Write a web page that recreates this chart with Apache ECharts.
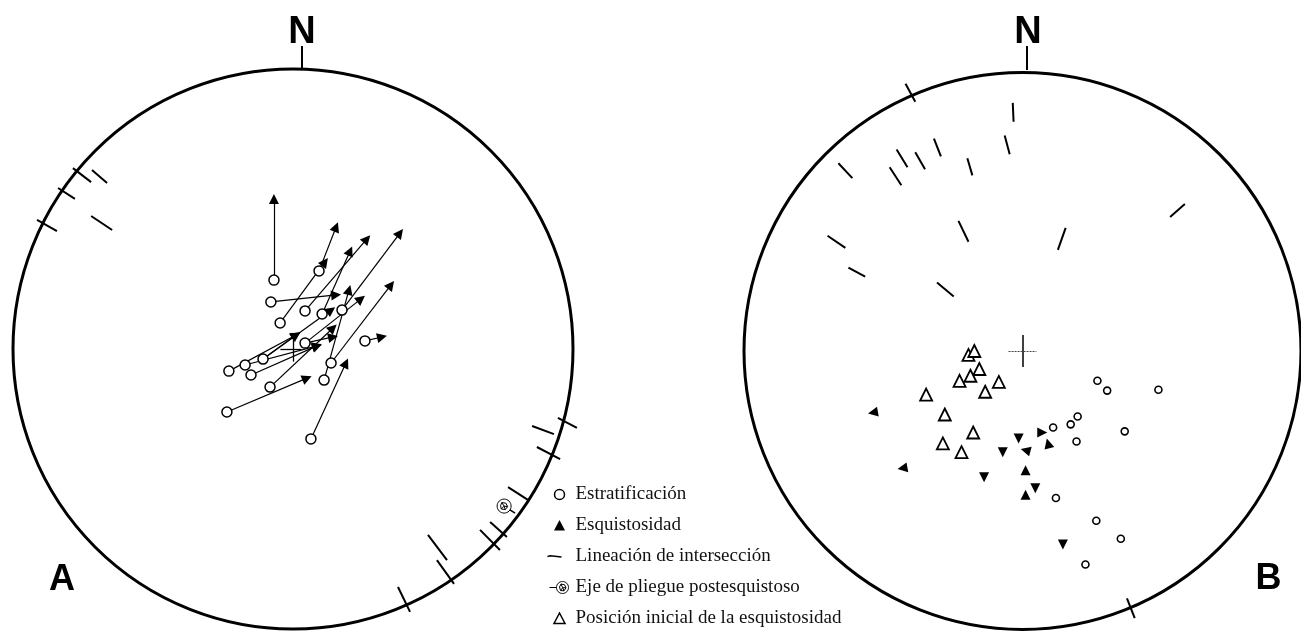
<!DOCTYPE html>
<html><head><meta charset="utf-8">
<script src="https://cdn.jsdelivr.net/npm/echarts@6/dist/echarts.min.js"></script>
<style>html,body{margin:0;padding:0;background:#fff}#c{width:1301px;height:632px}</style>
</head><body><div id="c"></div>
<script>
// Stereonet units: circle radius = 100, x = east, y = north

// ---- Diagram A ----
const stratA = [[-6.8,24.6],[-7.9,16.8],[9.3,27.9],[4.3,13.6],[-4.6,9.3],[10.4,12.5],[17.5,13.9],[4.3,2.1],[-10.7,-3.6],[-17.1,-5.7],[-22.9,-7.9],[-15.0,-9.3],[-8.2,-13.6],[-23.6,-22.5],[13.6,-5.0],[11.1,-11.1],[25.7,2.9],[6.4,-32.1]];
const schistA = [[-6.8,53.6],[15.4,43.6],[38.2,41.4],[26.4,39.3],[20.4,35.0],[11.4,31.1],[35.0,22.9],[20.0,21.1],[15.4,19.3],[24.3,17.9],[13.6,13.9],[14.3,7.5],[14.3,4.3],[31.8,4.3],[1.1,5.0],[8.6,1.1],[18.9,-5.0],[5.0,-10.4]];
// pairs: [stratification index, schistosity index]
const linksA = [[0,0],[1,8],[2,1],[3,3],[4,5],[5,4],[6,2],[7,9],[7,12],[8,14],[8,10],[9,15],[10,14],[11,15],[12,11],[13,17],[14,6],[15,7],[16,13],[17,16]];
const lineationsA = [[-78.6,64.6,-72.1,59.6],[-71.8,63.9,-66.4,59.3],[-83.9,57.5,-77.9,53.6],[-91.4,46.1,-84.3,42.1],[-72.1,47.5,-64.6,42.5],[94.6,-24.6,101.4,-28.2],[85.4,-27.5,93.2,-30.4],[87.1,-35.0,95.4,-39.3],[76.8,-49.3,83.9,-53.9],[66.8,-64.6,73.9,-71.8],[70.4,-61.8,76.4,-67.1],[48.2,-66.4,55.0,-75.4],[51.4,-75.4,57.5,-83.9],[37.5,-85.0,41.8,-93.9]];
const foldAxisA = [[75.4,-56.1,79.3,-58.6]];

// ---- Diagram B ----
const stratB = [[26.9,-10.6],[30.4,-14.1],[48.8,-13.8],[11.0,-27.2],[17.3,-26.1],[19.8,-23.3],[19.4,-32.2],[36.7,-28.6],[12.0,-52.3],[26.5,-60.4],[35.3,-66.8],[22.6,-76.0]];
// [x, y, pointing angle in degrees]
const schistB = [[-53.7,-21.9,100],[-43.1,-41.7,100],[-1.4,-31.1,180],[-7.1,-36.0,180],[1.1,-35.3,75],[7.1,-29.0,-90],[9.2,-32.9,15],[1.1,-42.4,0],[4.6,-48.8,180],[1.1,-51.2,0],[-13.8,-44.9,180],[14.5,-68.9,180]];
const initialB = [[-19.4,-1.4],[-17.3,0],[-15.5,-6.4],[-18.7,-8.8],[-22.6,-10.6],[-8.5,-11.0],[-13.4,-14.5],[-34.6,-15.5],[-27.9,-22.6],[-17.7,-29.0],[-28.6,-32.9],[-21.9,-36.0]];
const lineationsB = [[-42.0,95.1,-38.5,88.7],[-3.5,88.3,-3.2,81.6],[-6.4,76.7,-4.6,70.0],[-31.8,75.6,-29.3,69.3],[-38.5,70.7,-35.0,64.7],[-45.2,71.7,-41.3,65.4],[-47.7,65.4,-43.5,59.0],[-66.1,66.8,-61.1,61.5],[-19.8,68.6,-18.0,62.5],[53.0,47.7,58.3,52.3],[-23.0,46.3,-19.4,38.9],[15.5,43.8,12.7,36.0],[-70.0,41.0,-63.6,36.7],[-62.5,29.7,-56.5,26.5],[-30.7,24.4,-24.7,19.4],[37.5,-88.0,40.3,-95.1]];

const legendNames = ['Estratificación','Esquistosidad','Lineación de intersección','Eje de pliegue postesquistoso','Posición inicial de la esquistosidad'];

const chart = echarts.init(document.getElementById('c'));
const seg = arr => arr.map(s => ({coords: [[s[0], s[1]], [s[2], s[3]]]}));
const outline = gi => ({
  type: 'custom', xAxisIndex: gi, yAxisIndex: gi, silent: true, z: 1, clip: false,
  data: [[0, 0, 100]],
  renderItem: (p, api) => {
    const c = api.coord([api.value(0), api.value(1)]);
    const r = api.size([api.value(2), 0])[0];
    return {type: 'circle', shape: {cx: c[0], cy: c[1], r: r}, style: {fill: 'none', stroke: '#000', lineWidth: 3}};
  }
});
const segLines = (gi, name, data, width, extra) => Object.assign({
  type: 'lines', name: name, coordinateSystem: 'cartesian2d', xAxisIndex: gi, yAxisIndex: gi,
  data: seg(data), symbol: 'none', silent: true, clip: false, z: 2,
  lineStyle: {color: '#000', width: width, opacity: 1}
}, extra || {});
const textMark = (gi, x, y, txt, size) => ({
  type: 'custom', xAxisIndex: gi, yAxisIndex: gi, silent: true, clip: false, z: 5,
  data: [[x, y]],
  renderItem: (p, api) => {
    const c = api.coord([api.value(0), api.value(1)]);
    return {type: 'text', x: c[0], y: c[1], style: {text: txt, fill: '#000', font: 'bold ' + size + 'px "Liberation Sans", Arial, sans-serif', align: 'center', verticalAlign: 'middle', textAlign: 'center', textVerticalAlign: 'middle'}};
  }
});
const foldSymbol = 'path://M6,0 C9.3,0 12,2.7 12,6 C12,9.3 9.3,12 6,12 C2.7,12 0,9.3 0,6 C0,2.7 2.7,0 6,0 Z M4,3 L7.5,3.5 L9,6.5 L7,9 L3.5,8.5 L3,5.5 Z M4,3 L6,6 L7,9 M9,6.5 L6,6 L3.5,8.5';

const option = {
  animation: false,
  backgroundColor: '#fff',
  grid: [
    {left: 13, top: 69, width: 560, height: 560},
    {left: 744, top: 70, width: 566, height: 566}
  ],
  xAxis: [0, 1].map(i => ({gridIndex: i, type: 'value', min: -100, max: 100, show: false})),
  yAxis: [0, 1].map(i => ({gridIndex: i, type: 'value', min: -100, max: 100, show: false})),
  legend: {
    orient: 'vertical', left: 544, top: 485, height: 200, padding: 0, itemGap: 12, itemWidth: 24, itemHeight: 12,
    selectedMode: false, symbolKeepAspect: true,
    textStyle: {fontFamily: '"Liberation Serif", "DejaVu Serif", serif', fontSize: 19, color: '#111'},
    data: [
      {name: legendNames[0], icon: 'path://M0,0 M24,12 M13,1 C15.8,1 18,3.2 18,6 C18,8.8 15.8,11 13,11 C10.2,11 8,8.8 8,6 C8,3.2 10.2,1 13,1 Z', itemStyle: {color: '#fff', borderColor: '#000', borderWidth: 1.5}},
      {name: legendNames[1], icon: 'path://M0,0 M24,12 M13,0.5 L18.5,11 L7.5,11 Z', itemStyle: {color: '#000', borderWidth: 0}},
      {name: legendNames[2], icon: 'path://M0,0 M24,12 M1,6 L4,5.3 L15,6.5', itemStyle: {color: 'none', borderColor: '#000', borderWidth: 1.6}},
      {name: legendNames[3], icon: 'path://M0,0 M24,12 M3,6 L10,6 M16,0 C19.3,0 22,2.7 22,6 C22,9.3 19.3,12 16,12 C12.7,12 10,9.3 10,6 C10,2.7 12.7,0 16,0 Z M14.5,2.5 L18,3.2 L19.5,6.3 L17.5,9.3 L14,9 L13,5.5 Z M14.5,2.5 L16.2,6.2 L17.5,9.3 M19.5,6.3 L16.2,6.2 L14,9', itemStyle: {color: 'none', borderColor: '#000', borderWidth: 1}},
      {name: legendNames[4], icon: 'path://M0,0 M24,12 M13,0.5 L18.5,11 L7.5,11 Z', itemStyle: {color: '#fff', borderColor: '#000', borderWidth: 1.5}}
    ]
  },
  series: [
    outline(0), outline(1),
    // A
    segLines(0, null, [[3.2, 100, 3.2, 108.2]], 2),
    segLines(0, null, [[0, -4.5, 0, 4.5], [-4.5, 0, 3, 0]], 1.3),
    segLines(0, legendNames[2], lineationsA, 2),
    {
      type: 'lines', name: legendNames[1], coordinateSystem: 'cartesian2d', xAxisIndex: 0, yAxisIndex: 0,
      data: linksA.map(l => ({coords: [stratA[l[0]], schistA[l[1]]]})),
      symbol: ['none', 'triangle'], symbolSize: 10, silent: true, clip: false, z: 2,
      lineStyle: {color: '#000', width: 1.2, opacity: 1}
    },
    {
      type: 'scatter', name: legendNames[0], xAxisIndex: 0, yAxisIndex: 0, data: stratA,
      symbol: 'circle', symbolSize: 10, silent: true, clip: false, z: 3,
      itemStyle: {color: '#fff', borderColor: '#000', borderWidth: 1.5, opacity: 1}
    },
    segLines(0, legendNames[3], foldAxisA, 1.5),
    {
      type: 'scatter', name: legendNames[3], xAxisIndex: 0, yAxisIndex: 0, data: foldAxisA.map(f => [f[0], f[1]]),
      symbol: foldSymbol, symbolSize: 14, silent: true, clip: false, z: 3,
      itemStyle: {color: '#fff', borderColor: '#000', borderWidth: 1, opacity: 1}
    },
    textMark(0, 3.2, 113.2, 'N', 38),
    textMark(0, -82.5, -82.5, 'A', 36),
    // B
    segLines(1, null, [[1.4, 100, 1.4, 108.5]], 2),
    segLines(1, null, [[0, -5.7, 0, 5.7]], 1.5),
    segLines(1, null, [[-5, 0, 5, 0]], 1, {lineStyle: {color: '#444', width: 1, opacity: 1, type: [2, 1]}}),
    segLines(1, legendNames[2], lineationsB, 2),
    {
      type: 'scatter', name: legendNames[4], xAxisIndex: 1, yAxisIndex: 1, data: initialB,
      symbol: 'triangle', symbolSize: 12, silent: true, clip: false, z: 3,
      itemStyle: {color: '#fff', borderColor: '#000', borderWidth: 1.8, opacity: 1}
    },
    {
      type: 'scatter', name: legendNames[1], xAxisIndex: 1, yAxisIndex: 1, data: schistB,
      symbol: 'triangle', symbolSize: 10, symbolRotate: v => v[2], silent: true, clip: false, z: 3,
      itemStyle: {color: '#000', opacity: 1}
    },
    {
      type: 'scatter', name: legendNames[0], xAxisIndex: 1, yAxisIndex: 1, data: stratB,
      symbol: 'circle', symbolSize: 7, silent: true, clip: false, z: 3,
      itemStyle: {color: '#fff', borderColor: '#000', borderWidth: 1.6, opacity: 1}
    },
    textMark(1, 2.0, 113.5, 'N', 38),
    textMark(1, 88.3, -81.3, 'B', 36)
  ]
};
chart.setOption(option);
</script>
</body></html>
